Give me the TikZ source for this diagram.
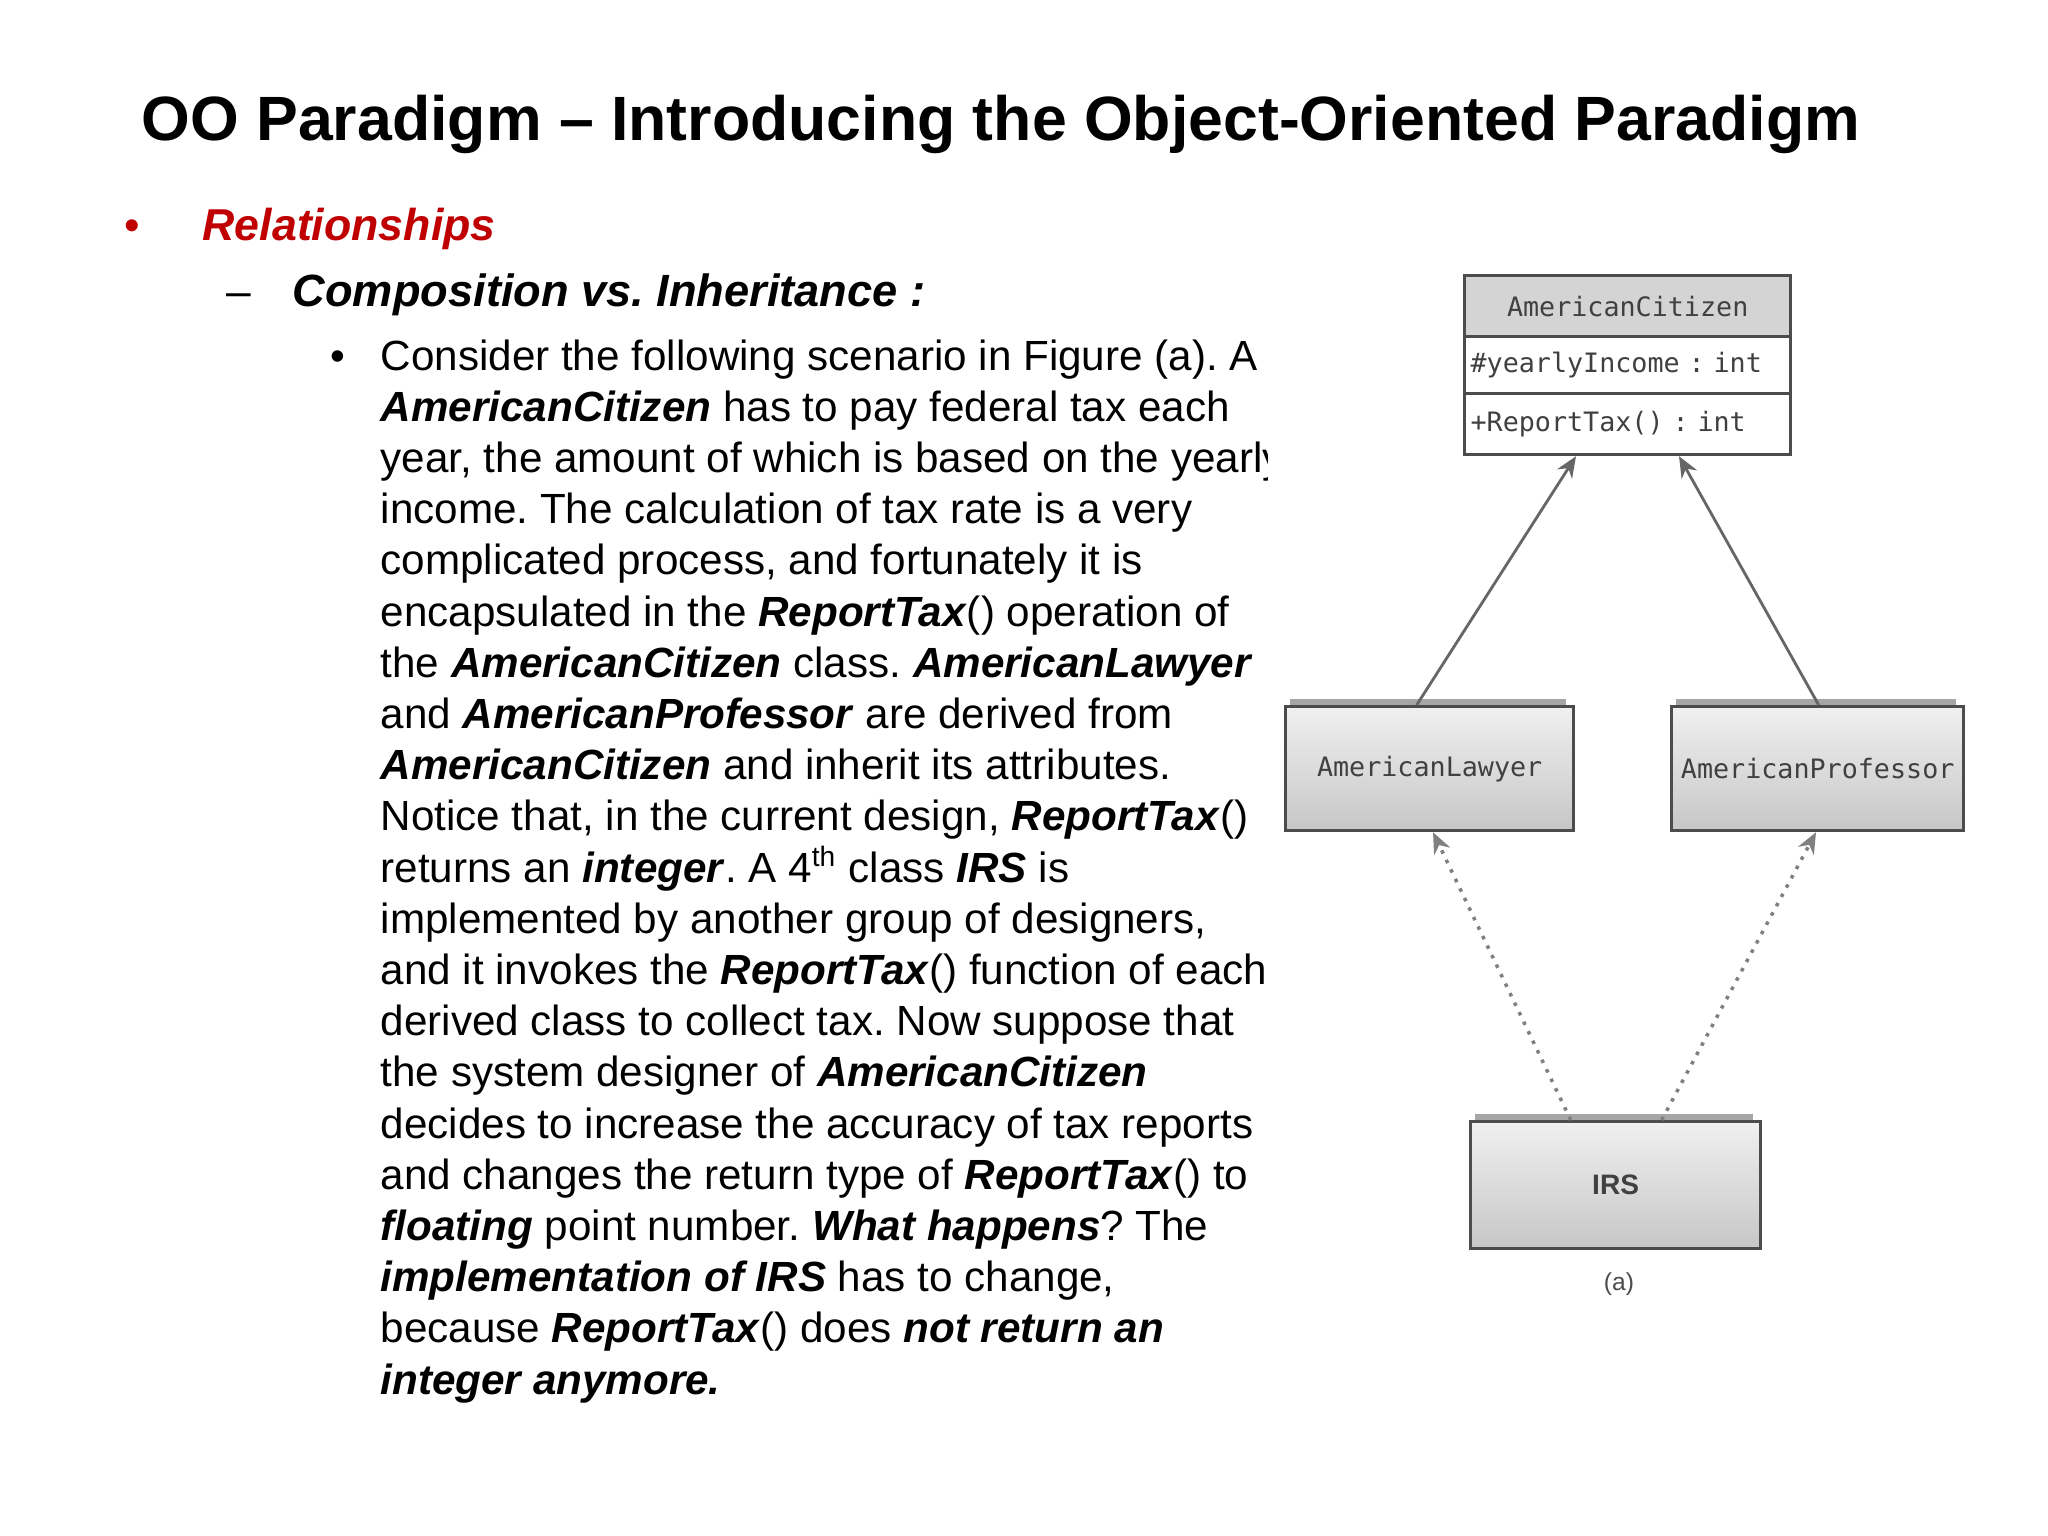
\documentclass[tikz,border=0pt]{standalone}
\usepackage{fontspec}
\setmainfont{Liberation Sans}
\newfontfamily\umlfont{DejaVu Sans Mono}
\usetikzlibrary{arrows.meta}
\newcommand{\bi}[1]{\textbf{\textit{#1}}}
\definecolor{slred}{RGB}{192,0,0}
\tikzset{
  bodyline/.style={anchor=base west,inner sep=0pt,font=\fontsize{12}{14}\selectfont},
  umlbox/.style={draw=black!70,line width=0.9pt,top color=black!6,bottom color=black!22,inner sep=0pt,anchor=north west},
  umlcell/.style={draw=black!70,line width=0.9pt,inner sep=0pt,anchor=north west,minimum width=3.26cm},
  umltext/.style={font=\umlfont\fontsize{7.6}{9}\selectfont,text=black!75},
  inh/.style={draw=black!60,line width=0.8pt,-{Stealth[length=6pt,width=5pt]}},
  dep/.style={draw=black!50,line width=1pt,dotted,-{Stealth[length=6pt,width=5pt]}}
}
\begin{document}
\begin{tikzpicture}[x=0.01cm,y=-0.01cm]
\frenchspacing
\useasboundingbox[fill=white] (0,0) rectangle (2048,1536);
\node[anchor=base west,inner sep=0pt,font=\bfseries\fontsize{17.8}{20}\selectfont] (title) at (141,140) {OO Paradigm -- Introducing the Object-Oriented Paradigm};
\node[anchor=base west,inner sep=0pt,text=slred,font=\fontsize{12.6}{15}\selectfont] (b1) at (124,240) {•};
\node[anchor=base west,inner sep=0pt,text=slred,font=\bfseries\itshape\fontsize{12.7}{15}\selectfont] (rel) at (202,240) {Relationships};
\node[anchor=base west,inner sep=0pt,font=\fontsize{12.6}{15}\selectfont] (d1) at (226,306) {--};
\node[anchor=base west,inner sep=0pt,font=\bfseries\itshape\fontsize{12.85}{15}\selectfont] (comp) at (292,306) {Composition vs. Inheritance :};
\node[bodyline] (b2) at (330,370) {•};
\begin{scope}
\clip (0,300) rectangle (1267,1450);
\foreach \t [count=\i] in {
 {Consider the following scenario in Figure (a). A},
 {\bi{AmericanCitizen} has to pay federal tax each},
 {year, the amount of which is based on the yearly},
 {income. The calculation of tax rate is a very},
 {complicated process, and fortunately it is},
 {encapsulated in the \bi{ReportTax}() operation of},
 {the \bi{AmericanCitizen} class. \bi{AmericanLawyer}},
 {and \bi{AmericanProfessor} are derived from},
 {\bi{AmericanCitizen} and inherit its attributes.},
 {Notice that, in the current design, \bi{ReportTax}()},
 {returns an \bi{integer}. A 4\textsuperscript{th} class \bi{IRS} is},
 {implemented by another group of designers,},
 {and it invokes the \bi{ReportTax}() function of each},
 {derived class to collect tax. Now suppose that},
 {the system designer of \bi{AmericanCitizen}},
 {decides to increase the accuracy of tax reports},
 {and changes the return type of \bi{ReportTax}() to},
 {\bi{floating} point number. \bi{What happens}? The},
 {\bi{implementation of IRS} has to change,},
 {because \bi{ReportTax}() does \bi{not return an}},
 {\bi{integer anymore.}}}
 \node[bodyline] (l\i) at (380,{370+(\i-1)*51.2}) {\t};
\end{scope}
% UML
\node[umlcell,fill=black!17,minimum height=0.61cm,umltext] (ac) at (1463,274) {AmericanCitizen};
\node[umlcell,fill=white,minimum height=0.57cm,umltext,text width=3.14cm,align=left] (aca) at (1463,335) {\#yearlyIncome : int};
\node[umlcell,fill=white,minimum height=0.61cm,umltext,text width=3.14cm,align=left] (aco) at (1463,392) {+ReportTax() : int};
\fill[black!35] (1290,699) rectangle (1566,706);
\node[umlbox,minimum width=2.88cm,minimum height=1.24cm,umltext] (law) at (1284,705) {AmericanLawyer};
\fill[black!35] (1676,699) rectangle (1956,706);
\node[umlbox,minimum width=2.92cm,minimum height=1.24cm,umltext] (prof) at (1670,705) {AmericanProfessor};
\fill[black!35] (1475,1114) rectangle (1753,1121);
\node[umlbox,minimum width=2.90cm,minimum height=1.27cm,font=\bfseries\fontsize{8}{10}\selectfont,text=black!75] (irs) at (1469,1120) {IRS};
\node[font=\fontsize{7}{8}\selectfont,text=black!70] (cap) at (1619,1284) {(a)};
\draw[inh] (law.north) ++(-13,0) coordinate (lt) -- (aco.south -| 1576,0);
\draw[inh] (prof.north) ++(1,0) coordinate (pt) -- (aco.south -| 1679,0);
\draw[dep] (irs.north) ++(-45,0) coordinate (i1) -- (law.south -| 1433,0);
\draw[dep] (irs.north) ++(46,0) coordinate (i2) -- (prof.south -| 1816,0);
\end{tikzpicture}
\end{document}
